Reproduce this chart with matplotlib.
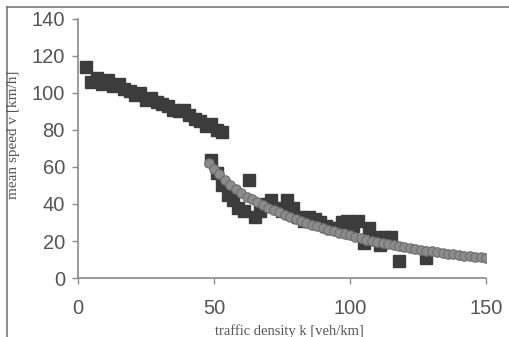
import numpy as np
import matplotlib.pyplot as plt
from matplotlib.lines import Line2D

# measured speeds, free-flow branch
free_k = [3, 5, 7, 9, 11, 13, 15, 17, 19, 21, 23, 25, 27, 29, 31, 33, 35, 37, 39, 41, 43, 45, 47, 49, 51, 53]
free_v = [114, 106, 108, 105, 107, 104, 105, 102, 101, 99, 100, 96, 97, 95, 94, 93, 91, 90, 91, 88, 86, 85, 82, 83, 80, 79]

# measured speeds, congested branch
cong_k = [49, 51, 53, 55, 57, 59, 61, 63, 65, 67, 69, 71, 73, 75, 77, 79, 81, 83, 85, 87, 89, 91, 93, 95,
          97, 99, 101, 103, 105, 107, 109, 111, 113, 115, 118, 128]
cong_v = [64, 57, 50, 45, 42, 38, 36, 53, 33, 36, 40, 42, 38, 36, 42, 38, 33, 31, 33, 32, 30, 28, 27, 27,
          30, 31, 28, 31, 19, 27, 22, 18, 22, 22, 9, 11]

# fitted curve
fit_k = [48, 50, 52, 54, 56, 58, 60, 62, 64, 66, 68, 70, 72, 74, 76, 78, 80, 82, 84, 86, 88, 90, 92, 94, 96, 98,
         100, 102, 104, 106, 108, 110, 112, 114, 116, 118, 120, 122, 124, 126, 128, 130, 132, 134, 136, 138,
         140, 142, 144, 146, 148, 150]
fit_v = [62, 59, 56, 53, 50.5, 48, 46, 44, 42.5, 41, 39.5, 38, 36.8, 35.5, 34.3, 33.1, 32, 30.9, 29.9, 28.9, 27.9,
         27, 26.1, 25.3, 24.5, 23.7, 23, 22.2, 21.5, 20.8, 20.2, 19.5, 18.9, 18.3, 17.8, 17.2, 16.7, 16.2, 15.7,
         15.3, 14.8, 14.4, 14, 13.6, 13.2, 12.8, 12.5, 12.1, 11.8, 11.5, 11.2, 10.9]

fig = plt.figure(figsize=(5.09, 3.37), dpi=100)
ax = fig.add_axes([0.153, 0.175, 0.802, 0.769])

ax.plot(free_k, free_v, 's', ms=9, color='#3c3c3c', mec='#3c3c3c')
ax.plot(cong_k, cong_v, 's', ms=9, color='#3c3c3c', mec='#3c3c3c')
ax.plot(fit_k, fit_v, 'o', ms=6.8, color='#8c8c8c', mec='#6e6e6e', mew=0.8)

ax.set_xlim(0, 150)
ax.set_ylim(0, 140)
ax.set_xticks([0, 50, 100, 150])
ax.set_yticks(range(0, 141, 20))
for s in ['top', 'right']:
    ax.spines[s].set_visible(False)
for s in ['left', 'bottom']:
    ax.spines[s].set_color('#8a8a8a')
    ax.spines[s].set_linewidth(1.2)
ax.tick_params(colors='#8a8a8a', labelcolor='#555555', length=4.3, width=1.0, labelsize=14.5)
ax.tick_params(axis='x', pad=11)
ax.tick_params(axis='y', pad=5)
for lab in ax.get_xticklabels() + ax.get_yticklabels():
    lab.set_family('Liberation Sans')

fig.text(14 / 509, 1 - 135 / 337, 'mean speed v [km/h]', rotation=90, ha='center', va='center',
         family='Liberation Serif', fontsize=11, color='#555555')
fig.text(289 / 509, 1 - 331 / 337, 'traffic density k [veh/km]', ha='center', va='center',
         family='Liberation Serif', fontsize=10.5, color='#555555')

# frame lines of the scanned figure
fig.add_artist(Line2D([7 / 509, 7 / 509], [0, 1 - 7 / 337], color='#7a7a7a', lw=1.2))
fig.add_artist(Line2D([7 / 509, 1], [1 - 7 / 337, 1 - 7 / 337], color='#7a7a7a', lw=1.2))

fig.savefig('out.png', dpi=100)
